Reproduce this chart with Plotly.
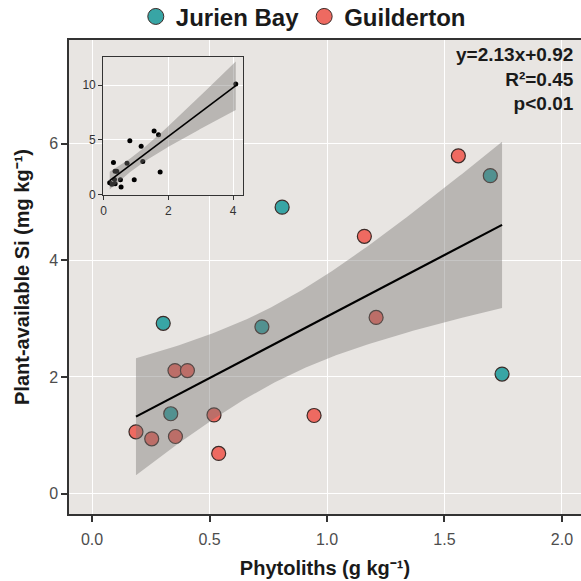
import numpy as np
import plotly.graph_objects as go

# ---- data ----
jurien_x = [0.303, 0.335, 0.723, 0.809, 1.695, 1.745]
jurien_y = [2.92, 1.37, 2.86, 4.91, 5.45, 2.05]
guild_x = [0.187, 0.254, 0.353, 0.406, 0.355, 0.519, 0.539, 0.945, 1.159, 1.209, 1.559]
guild_y = [1.06, 0.94, 2.11, 2.11, 0.98, 1.35, 0.69, 1.34, 4.41, 3.02, 5.79]
outlier_x = [4.08]
outlier_y = [10.1]

x_ticks = [0, 0.5, 1.0, 1.5, 2.0]
y_ticks = [0, 2, 4, 6]
inset_x_ticks = [0, 2, 4]
inset_y_ticks = [0, 5, 10]

stats_text = ["y=2.13x+0.92", "R²=0.45", "p&lt;0.01"]

# two-sided 95% t quantiles for the residual degrees of freedom
T_CRIT = {15: 2.1314, 16: 2.1199}


def lm_band(x, y, npts=120):
    x = np.asarray(x, float)
    y = np.asarray(y, float)
    n = len(x)
    b, a = np.polyfit(x, y, 1)
    xs = np.linspace(x.min(), x.max(), npts)
    yhat = a + b * xs
    resid = y - (a + b * x)
    s = np.sqrt(np.sum(resid ** 2) / (n - 2))
    sxx = np.sum((x - x.mean()) ** 2)
    se = s * np.sqrt(1.0 / n + (xs - x.mean()) ** 2 / sxx)
    t = T_CRIT[n - 2]
    return xs, yhat, yhat - t * se, yhat + t * se


all_x = jurien_x + guild_x
all_y = jurien_y + guild_y
xs, yh, lo, hi = lm_band(all_x, all_y)

in_x = all_x + outlier_x
in_y = all_y + outlier_y
ixs, iyh, ilo, ihi = lm_band(in_x, in_y)

TEAL = "#38A5A5"
RED = "#EE6A61"
EDGE = "#3b2b28"
BAND = "rgba(120,116,114,0.42)"
FONT = "Liberation Sans, Arial, sans-serif"

fig = go.Figure()

# main points
fig.add_trace(go.Scatter(x=jurien_x, y=jurien_y, mode="markers", showlegend=False,
                         marker=dict(size=14, color=TEAL, line=dict(color=EDGE, width=1.2))))
fig.add_trace(go.Scatter(x=guild_x, y=guild_y, mode="markers", showlegend=False,
                         marker=dict(size=14, color=RED, line=dict(color=EDGE, width=1.2))))
# ribbon over points
fig.add_trace(go.Scatter(x=xs, y=lo, mode="lines", line=dict(width=0), showlegend=False,
                         hoverinfo="skip"))
fig.add_trace(go.Scatter(x=xs, y=hi, mode="lines", line=dict(width=0), fill="tonexty",
                         fillcolor=BAND, showlegend=False, hoverinfo="skip"))
fig.add_trace(go.Scatter(x=xs, y=yh, mode="lines", line=dict(color="black", width=2.2),
                         showlegend=False))

# legend entries
fig.add_trace(go.Scatter(x=[None], y=[None], mode="markers", name="<b>Jurien Bay</b>",
                         marker=dict(size=20, color=TEAL, line=dict(color=EDGE, width=1))))
fig.add_trace(go.Scatter(x=[None], y=[None], mode="markers", name="<b>Guilderton</b>",
                         marker=dict(size=20, color=RED, line=dict(color=EDGE, width=1))))

# inset
fig.add_trace(go.Scatter(x=in_x, y=in_y, mode="markers", xaxis="x2", yaxis="y2",
                         showlegend=False, marker=dict(size=5, color="black")))
fig.add_trace(go.Scatter(x=ixs, y=ilo, mode="lines", line=dict(width=0), xaxis="x2",
                         yaxis="y2", showlegend=False, hoverinfo="skip"))
fig.add_trace(go.Scatter(x=ixs, y=ihi, mode="lines", line=dict(width=0), fill="tonexty",
                         fillcolor=BAND, xaxis="x2", yaxis="y2", showlegend=False,
                         hoverinfo="skip"))
fig.add_trace(go.Scatter(x=ixs, y=iyh, mode="lines", line=dict(color="black", width=1.6),
                         xaxis="x2", yaxis="y2", showlegend=False))

axis_common = dict(ticks="outside", ticklen=6, tickwidth=1.5, tickcolor="#333",
                   showline=True, linecolor="#333", linewidth=1.5,
                   showgrid=True, gridcolor="white", gridwidth=1, zeroline=False,
                   tickfont=dict(size=16, color="#4D4D4D", family=FONT))

inset_common = dict(ticks="outside", ticklen=4, tickwidth=1.2, tickcolor="#333",
                    showline=True, mirror=True, linecolor="#333", linewidth=1.3,
                    showgrid=True, gridcolor="white", gridwidth=0.8, zeroline=False,
                    tickfont=dict(size=12, color="#333333", family=FONT))

fig.update_layout(
    template="none",
    width=581, height=581,
    margin=dict(l=69, r=0, t=40, b=67),
    paper_bgcolor="white", plot_bgcolor="#E8E5E2",
    font=dict(family=FONT, color="#1a1a1a"),
    legend=dict(orientation="h", xref="container", yref="container", traceorder="normal",
                x=0.522, xanchor="center", y=0.971, yanchor="middle",
                font=dict(size=24, color="#1a1a1a", family=FONT),
                bgcolor="rgba(0,0,0,0)", itemwidth=30),
    xaxis=dict(range=[-0.098, 2.081], tickvals=x_ticks, tickformat=".1f", mirror=True,
               ticklabelstandoff=4,
               title=dict(text="<b>Phytoliths (g kg⁻¹)</b>", font=dict(size=20, color="#1a1a1a"),
                          standoff=14),
               **axis_common),
    yaxis=dict(range=[-0.348, 7.774], tickvals=y_ticks, mirror=False,
               title=dict(text="<b>Plant-available Si (mg kg⁻¹)</b>",
                          font=dict(size=20, color="#1a1a1a"), standoff=14),
               **axis_common),
    xaxis2=dict(domain=[0.067, 0.339], anchor="y2", range=[-0.01, 4.29],
                tickvals=inset_x_ticks, **inset_common),
    yaxis2=dict(domain=[0.673, 0.965], anchor="x2", range=[-0.05, 12.6],
                tickvals=inset_y_ticks, **inset_common),
    annotations=[dict(text="<b>" + "<br>".join(stats_text) + "</b>",
                      xref="paper", yref="paper", x=0.99, y=0.996,
                      xanchor="right", yanchor="top", align="right", showarrow=False,
                      font=dict(size=19, color="#1a1a1a", family=FONT))],
)

fig.write_html("out.html")
